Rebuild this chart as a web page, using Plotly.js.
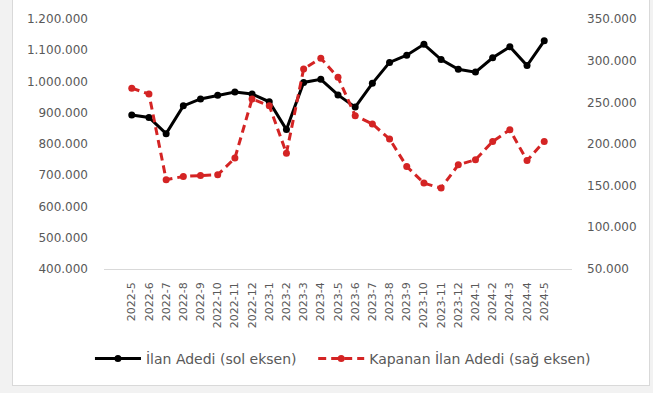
<!DOCTYPE html>
<html>
<head>
<meta charset="utf-8">
<script src="https://cdn.plot.ly/plotly-3.0.1.min.js"></script>
<style>
  html, body { margin: 0; padding: 0; background: #f2f2f2; width: 653px; height: 393px; overflow: hidden; }
  #frame { position: absolute; left: 12px; top: -1px; width: 636px; height: 385px; background: #ffffff; border: 1px solid #d9d9d9; }
  #chart { width: 636px; height: 385px; }
</style>
</head>
<body>
<div id="frame"><div id="chart"></div></div>
<script>
// Monthly periods
const months = [
  '2022-5','2022-6','2022-7','2022-8','2022-9','2022-10','2022-11','2022-12',
  '2023-1','2023-2','2023-3','2023-4','2023-5','2023-6','2023-7','2023-8',
  '2023-9','2023-10','2023-11','2023-12','2024-1','2024-2','2024-3','2024-4','2024-5'
];

// Listing count (left axis)
const ilanAdedi = [
  893000, 885000, 833000, 922000, 944000, 956000, 966000, 960000,
  935000, 846000, 997000, 1007000, 957000, 918000, 994000, 1061000,
  1084000, 1119000, 1070000, 1039000, 1030000, 1076000, 1111000, 1051000, 1130000
];

// Closed listing count (right axis)
const kapananIlan = [
  267000, 260000, 157000, 161000, 162000, 163000, 183000, 254000,
  246000, 189000, 290000, 303000, 280000, 234000, 224000, 206000,
  173000, 153000, 147000, 175000, 181000, 203000, 217000, 180000, 203000
];

const seriesNames = ['İlan Adedi (sol eksen)', 'Kapanan İlan Adedi (sağ eksen)'];

const textColor = '#595959';
const fam = 'DejaVu Sans, Verdana, sans-serif';
const legendFont = { family: fam, size: 14, color: textColor };

const traces = [
  {
    x: months, y: ilanAdedi, name: seriesNames[0], type: 'scatter', mode: 'lines+markers',
    yaxis: 'y', legend: 'legend',
    line: { color: '#000000', width: 3 },
    marker: { color: '#000000', size: 7, symbol: 'circle' }
  },
  {
    x: months, y: kapananIlan, name: seriesNames[1], type: 'scatter', mode: 'lines+markers',
    yaxis: 'y2', legend: 'legend2',
    line: { color: '#d42424', width: 3, dash: '8px,5px' },
    marker: { color: '#d42424', size: 7, symbol: 'circle' }
  }
];

// Axes sit in the upper part of the plotting area; the legends live below them
const axisDomain = [0.292, 1];

const layout = {
  width: 636, height: 385,
  margin: { l: 91, r: 77, t: 19, b: 10 },
  paper_bgcolor: '#ffffff', plot_bgcolor: 'rgba(0,0,0,0)',
  separators: ',.',
  font: { family: fam, size: 12, color: textColor },
  showlegend: true,
  // one legend per series, side by side under the axis labels
  legend: {
    orientation: 'h', x: -0.03, xanchor: 'left', y: 0.037, yanchor: 'middle',
    font: legendFont, itemwidth: 46
  },
  legend2: {
    orientation: 'h', x: 0.447, xanchor: 'left', y: 0.037, yanchor: 'middle',
    font: legendFont, itemwidth: 46
  },
  xaxis: {
    type: 'category', tickangle: -90, automargin: false,
    tickfont: { family: fam, size: 11, color: textColor },
    showgrid: false, zeroline: false,
    showline: true, linecolor: '#d9d9d9', linewidth: 1,
    ticks: '', ticklabelstandoff: 8
  },
  yaxis: {
    domain: axisDomain,
    range: [400000, 1200000], dtick: 100000, tickformat: ',d', automargin: false,
    showgrid: false, zeroline: false, showline: false, ticks: '',
    tickfont: { family: fam, size: 12, color: textColor },
    ticklabelstandoff: 15
  },
  yaxis2: {
    domain: axisDomain,
    overlaying: 'y', side: 'right',
    range: [50000, 350000], dtick: 50000, tickformat: ',d', automargin: false,
    showgrid: false, zeroline: false, showline: false, ticks: '',
    tickfont: { family: fam, size: 12, color: textColor },
    ticklabelstandoff: 14
  }
};

Plotly.newPlot('chart', traces, layout, { staticPlot: true, displayModeBar: false });
</script>
</body>
</html>
